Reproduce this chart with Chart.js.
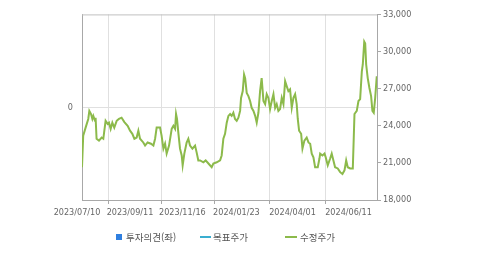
<!DOCTYPE html>
<html lang="ko">
<head>
<meta charset="utf-8">
<title>수정주가</title>
<script src="https://cdn.jsdelivr.net/npm/chart.js@4.4.1/dist/chart.umd.min.js"></script>
<style>
  html,body{margin:0;padding:0;background:#fff;}
  #wrap{position:relative;width:479px;height:254px;overflow:hidden;}
  #priceChart{position:absolute;left:0;top:0;}
  .lg{position:absolute;top:230px;height:14px;line-height:14px;font-size:9.5px;font-family:'Noto Sans CJK KR',sans-serif;color:#555;white-space:nowrap;}
  .lg i{position:absolute;display:block;}
</style>
</head>
<body>
<div id="wrap">
  <canvas id="priceChart" width="479" height="254"></canvas>
  <div class="lg" style="left:116px"><i style="left:0;top:4px;width:6px;height:6px;background:#2f7fe0"></i><span style="padding-left:10px">투자의견(좌)</span></div>
  <div class="lg" style="left:200px"><i style="left:0;top:6px;width:11px;height:2px;background:#3aaed0"></i><span style="padding-left:13px">목표주가</span></div>
  <div class="lg" style="left:285px"><i style="left:0;top:6px;width:12px;height:2px;background:#8cba4b"></i><span style="padding-left:15px">수정주가</span></div>
</div>
<script>
// x axis = trading day counted from 2023/07/10
const tickDays = [0, 44, 87.5, 132.4, 179, 225.5];
const tickLabels = ['2023/07/10','2023/09/11','2023/11/16','2024/01/23','2024/04/01','2024/06/11'];

const dayIdx = [0,1,3,5.2,6.1,7.5,8.6,9.4,10.8,11.3,12.1,14.1,16.3,17.7,19.6,21.3,22.4,23.8,25.2,26.8,
  28.8,30.7,32.9,35.2,37.9,39.9,41.8,43.5,45.4,46.8,48.2,50.9,52.4,54.5,57.3,59.3,60.7,62,64.8,66.1,
  67.6,69,70.3,72.3,74.5,75.9,77.3,78.1,78.9,80,81.4,82.8,83.6,85,86.9,88.3,89.7,91.7,93.9,95.2,
  96.6,98.1,100.8,102.7,105,107.7,109.1,111.9,114.7,116,117.4,118.8,120.2,121.6,123,124.3,125.7,127.1,128.5,129.9,
  131.3,132.1,133.5,134.6,135.5,136.8,138.2,139.6,140.9,142.4,143.8,145.1,146.5,147.9,149.2,150.7,152.1,153.4,154.8,156.2,
  157.6,159,160.4,161.7,163.1,164.5,165.9,167.3,168.7,170,171.4,172.8,174.2,175.6,177,178.3,179.2,180.3,182,183.1,
  184.7,186.6,188.1,189.5,190.8,192.2,193.6,195.8,197.2,197.8,199.7,201.4,202.4,204.1,206.1,207.4,208.8,210.2,212.4,214.4,
  216.3,218,219.4,220.7,222.7,224.9,225.7,226.3,228.2,229.6,231,232.4,233.2,234.4,235.2,236,237.3,238.7,240.1,241.2,
  242.3,243.5,244.8];
const adjPrice = [20650,23200,23850,24550,25200,24950,24550,24800,24400,24650,22950,22800,23050,22950,24400,24150,24250,23750,24250,23850,
  24400,24550,24650,24300,24000,23600,23350,22950,23050,23600,22950,22650,22400,22650,22550,22400,22950,23850,23850,23200,
  22150,22550,21750,22400,23750,24000,23750,24950,24550,23450,22150,21600,20800,21750,22650,22950,22400,22150,22400,21850,
  21200,21200,21050,21200,20950,20650,20950,21050,21200,21600,22950,23350,24250,24800,24950,24800,25050,24550,24400,24650,
  25200,26250,26800,28150,27850,26650,26400,26000,25450,25200,24800,24250,25050,26800,27850,26000,25750,26550,26250,25350,
  26000,26550,25450,25750,25200,25350,26250,25750,27600,27200,26800,26950,25450,26250,26550,25750,24550,23600,23350,22150,
  22800,23050,22650,22550,21750,21450,20650,20650,21350,21750,21600,21750,21450,20800,21350,21750,21200,20650,20550,20250,
  20100,20400,21200,20650,20550,20550,23050,24950,25200,26000,26150,28400,28950,30800,30650,28950,27850,27050,26400,25200,
  25050,26250,28000];
const opinion = [];      // 투자의견: no marks in this period
const targetPrice = [];  // 목표주가: no marks in this period

const tickFont = { family:"'Liberation Sans Narrow','DejaVu Sans Condensed',sans-serif", size:9 };
const axisGray = '#a8a8a8';
const gridGray = '#e0e0e0';

// top edge of the plot frame
const frameTop = {
  id:'frameTop',
  beforeDatasetsDraw(c){
    const a = c.chartArea, g = c.ctx;
    g.save(); g.strokeStyle = '#c0c0c0'; g.lineWidth = 1;
    g.beginPath(); g.moveTo(a.left, a.top + 0.5); g.lineTo(a.right, a.top + 0.5); g.stroke();
    g.restore();
  }
};

new Chart(document.getElementById('priceChart'), {
  type:'line',
  data:{
    datasets:[
      { type:'bar', label:'투자의견(좌)', data:opinion, yAxisID:'yl', backgroundColor:'#2f7fe0' },
      { label:'목표주가', data:targetPrice, yAxisID:'y', borderColor:'#3aaed0', pointRadius:0 },
      { label:'수정주가', data:dayIdx.map((d,i)=>({x:d, y:adjPrice[i]})), yAxisID:'y',
        borderColor:'#8cba4b', borderWidth:2, pointRadius:0, tension:0 }
    ]
  },
  options:{
    responsive:false, animation:false, devicePixelRatio:1,
    layout:{ padding:{ top:13, bottom:30, left:0, right:0 } },
    plugins:{ legend:{display:false}, tooltip:{enabled:false} },
    scales:{
      x:{
        type:'linear', min:0, max:245, offset:false,
        afterBuildTicks(s){ s.ticks = tickDays.map(v=>({value:v})); },
        ticks:{ autoSkip:false, maxRotation:0, labelOffset:-5, padding:3, color:'#666', font:tickFont,
                callback:(v,i)=>tickLabels[i] },
        grid:{ color:gridGray, tickLength:4, tickColor:axisGray },
        border:{ color:axisGray },
        afterFit(s){ s.height = 24; }
      },
      yl:{
        position:'left', min:-1, max:1,
        ticks:{ stepSize:1, padding:9, color:'#666', font:tickFont, callback:v=>v===0?'0':'' },
        grid:{ drawTicks:false, color:c=>c.tick && c.tick.value===0 ? gridGray : 'rgba(0,0,0,0)' },
        border:{ color:axisGray },
        afterFit(s){ s.width = 82; }
      },
      y:{
        position:'right', min:18000, max:33000,
        ticks:{ stepSize:3000, padding:2, color:'#666', font:tickFont, callback:v=>v.toLocaleString('en-US') },
        grid:{ drawOnChartArea:false, tickLength:4, tickColor:axisGray },
        border:{ color:axisGray },
        afterFit(s){ s.width = 102; }
      }
    }
  },
  plugins:[frameTop]
});
</script>
</body>
</html>
